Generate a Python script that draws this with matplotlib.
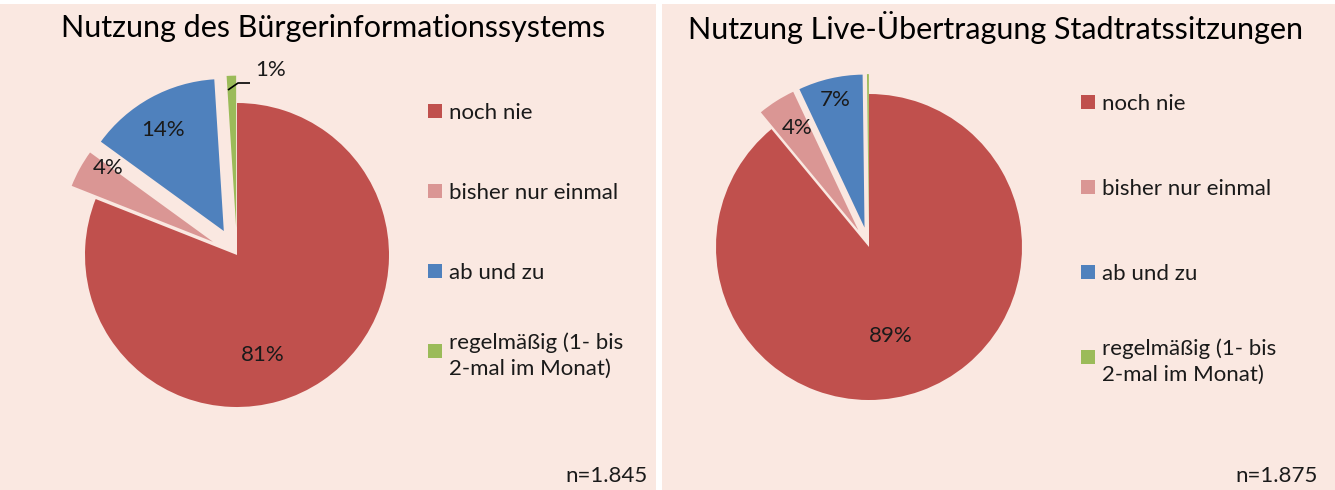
import matplotlib.pyplot as plt
from matplotlib.patches import Rectangle

# categories shared by both charts
categories = ['noch nie', 'bisher nur einmal', 'ab und zu',
              'regelmäßig (1- bis\n2-mal im Monat)']
colors = ['#C0504D', '#DA9694', '#4F81BD', '#9BBB59']

# left chart: Bürgerinformationssystem
bis_title = 'Nutzung des Bürgerinformationssystems'
bis_values = [81, 4, 14, 1]
bis_n = 'n=1.845'

# right chart: Live-Übertragung
live_title = 'Nutzung Live-Übertragung Stadtratssitzungen'
live_values = [89.0, 4.0, 6.8, 0.2]
live_n = 'n=1.875'

W, H = 1335, 490
bg = '#FAE8E1'
font = 'Lato'

fig = plt.figure(figsize=(W / 100, H / 100), dpi=100)
fig.patch.set_facecolor('white')


def panel(x0, x1, title, values, n_text, n_x, center, radius, explode_frac,
          label_offsets, legend_x, legend_top, legend_step, leader=None):
    top = 4
    pw, ph = x1 - x0, H - top
    ax = fig.add_axes([x0 / W, 0, pw / W, ph / H])
    ax.set_facecolor(bg)
    for s in ax.spines.values():
        s.set_visible(False)

    cx, cy = center[0], H - center[1]
    explode = [f * radius for f in explode_frac]
    wedges, texts, autotexts = ax.pie(
        values, colors=colors, startangle=90, counterclock=False,
        explode=explode, center=(cx, cy), radius=radius, frame=True,
        autopct=lambda p: f'{p:.0f}%' if p >= 0.5 else '',
        wedgeprops=dict(linewidth=0),
        textprops=dict(fontsize=16, family=font, color='#1a1a1a'))
    for t, off in zip(autotexts, label_offsets):
        if off is None:
            t.set_text('')
            continue
        t.set_position((cx + off[0] * radius, cy + off[1] * radius))
        t.set_ha('center')
        t.set_va('center')

    if leader is not None:
        ax.plot([p[0] for p in leader], [H - p[1] for p in leader],
                color='black', lw=1.2, solid_capstyle='butt')

    ax.set_xlim(0, pw)
    ax.set_ylim(0, ph)
    ax.set_aspect('auto')
    ax.set_xticks([])
    ax.set_yticks([])

    ax.text(333, H - 28, title, ha='center', va='center', fontsize=22,
            family=font, color='black')

    # legend drawn by hand so the spacing follows the original
    for i, (cat, col) in enumerate(zip(categories, colors)):
        y = H - (legend_top + i * legend_step)
        ax.add_patch(Rectangle((legend_x, y - 7), 14, 14, color=col, lw=0))
        ax.text(legend_x + 21, y, cat, ha='left', va='center_baseline',
                fontsize=16, family=font, color='#1a1a1a', linespacing=1.35)

    ax.text(n_x, 4, n_text, ha='right', va='bottom', fontsize=16,
            family=font, color='#1a1a1a')
    return ax


panel(0, 656, bis_title, bis_values, bis_n, n_x=648,
      center=(237, 255), radius=152,
      explode_frac=[0, 0.18, 0.18, 0.18],
      label_offsets=[(0.17, -0.66), (-0.85, 0.57), (-0.49, 0.82), (0.22, 1.22)],
      legend_x=428, legend_top=111, legend_step=80,
      leader=[(228, 90), (238, 83), (250, 83)])

panel(662, W, live_title, live_values, live_n, n_x=656,
      center=(869 - 662, 247), radius=153,
      explode_frac=[0, 0.13, 0.13, 0.13],
      label_offsets=[(0.14, -0.58), (-0.47, 0.78), (-0.22, 0.96), None],
      legend_x=419, legend_top=102, legend_step=85)

fig.savefig('out.png', dpi=100, facecolor='white')
